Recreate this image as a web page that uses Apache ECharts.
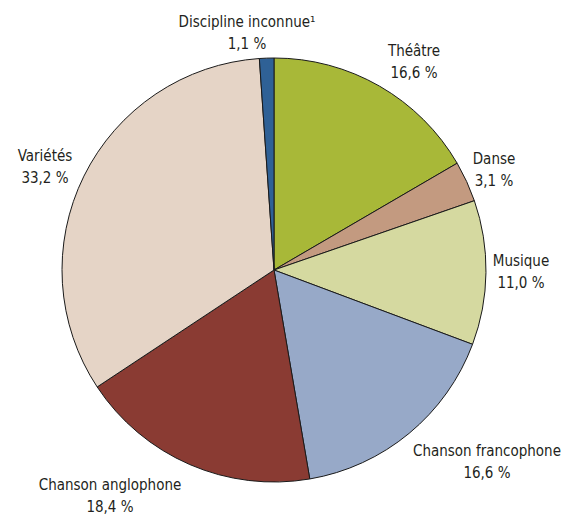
<!DOCTYPE html>
<html>
<head>
<meta charset="utf-8">
<style>
  html, body { margin: 0; padding: 0; background: #fff; }
  #chart { width: 561px; height: 516px; }
</style>
<script src="https://cdn.jsdelivr.net/npm/echarts@6/dist/echarts.min.js"></script>
</head>
<body>
<div id="chart"></div>
<script>
var names = ['Théâtre', 'Danse', 'Musique', 'Chanson francophone', 'Chanson anglophone', 'Variétés', 'Discipline inconnue¹'];
var values = [16.6, 3.1, 11.0, 16.6, 18.4, 33.2, 1.1];
var colors = ['#a8b838', '#c39a80', '#d5d9a0', '#97a9c8', '#8a3b33', '#e5d4c6', '#2f6196'];
// label centres, placed by hand as in the original
var labelX = [414, 494, 521, 487, 110, 45, 247];
var labelY = [62, 170, 272, 462, 496, 167, 33];

var chart = echarts.init(document.getElementById('chart'), null, { renderer: 'svg' });

function fmt(v) {
  return v.toFixed(1).replace('.', ',') + ' %';
}

chart.setOption({
  animation: false,
  series: [{
    type: 'pie',
    center: [274, 270],
    radius: 212,
    startAngle: 90,
    clockwise: true,
    data: names.map(function(n, i) {
      return { name: n, value: values[i], itemStyle: { color: colors[i] } };
    }),
    itemStyle: { borderColor: '#1a1a1a', borderWidth: 1 },
    label: {
      show: true,
      position: 'outside',
      color: '#231f20',
      fontFamily: '"DejaVu Sans Condensed", "Liberation Sans Narrow", sans-serif',
      fontSize: 15,
      lineHeight: 22,
      align: 'center',
      overflow: 'none',
      width: 200,
      formatter: function(p) { return p.name + '\n' + fmt(p.value); }
    },
    labelLine: { show: false },
    labelLayout: function(p) {
      return {
        x: labelX[p.dataIndex],
        y: labelY[p.dataIndex],
        align: 'center',
        verticalAlign: 'middle'
      };
    },
    emphasis: { disabled: true }
  }]
});
</script>
</body>
</html>
